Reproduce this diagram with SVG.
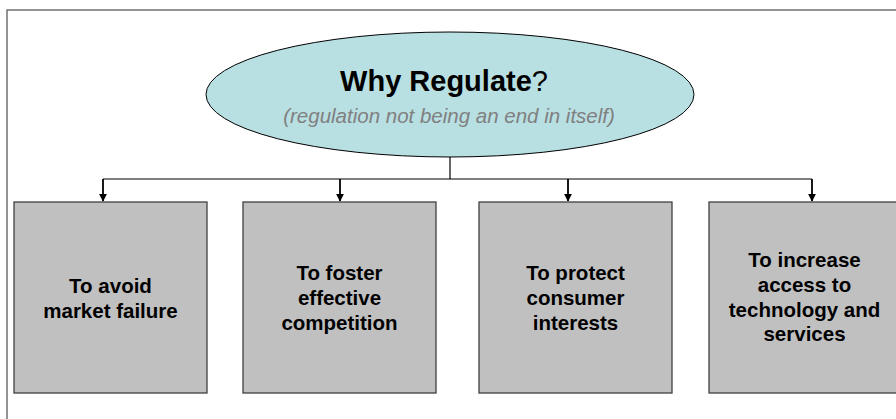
<svg xmlns="http://www.w3.org/2000/svg" width="896" height="419" viewBox="0 0 896 419">
<defs>
<style>
.box{fill:#c0c0c0;stroke:#404040;stroke-width:1.3}
.bt{font-family:"Liberation Sans",Arial,sans-serif;font-weight:bold;font-size:20.5px;fill:#000;text-anchor:middle}
.conn{fill:none;stroke:#000;stroke-width:1.2}
.arr{fill:none;stroke:#000;stroke-width:1.8}
</style>
<marker id="ah" viewBox="0 0 10 10" refX="9" refY="5" markerWidth="8" markerHeight="8" markerUnits="userSpaceOnUse" orient="auto">
<path d="M0,0 L10,5 L0,10 z" fill="#000"/>
</marker>
</defs>
<rect x="0" y="0" width="896" height="419" fill="#fff"/>
<path d="M7,419 V10 H896" fill="none" stroke="#707070" stroke-width="1.5"/>
<g id="root">
<ellipse cx="450" cy="94.5" rx="244" ry="62.5" fill="#b8dfe2" stroke="#000" stroke-width="1"/>
<text x="444" y="91" font-family="'Liberation Sans',Arial,sans-serif" font-size="29" text-anchor="middle" fill="#000"><tspan font-weight="bold">Why Regulate</tspan>?</text>
<text x="449" y="123" font-family="'Liberation Sans',Arial,sans-serif" font-size="20.5" font-style="italic" text-anchor="middle" fill="#808080">(regulation not being an end in itself)</text>
</g>
<g id="connectors">
<path class="conn" d="M450,157 V179"/>
<path class="conn" d="M103,179 H812"/>
<path class="arr" d="M103,179 V201" marker-end="url(#ah)"/>
<path class="arr" d="M340,179 V201" marker-end="url(#ah)"/>
<path class="arr" d="M568,179 V201" marker-end="url(#ah)"/>
<path class="arr" d="M812,179 V201" marker-end="url(#ah)"/>
</g>
<g id="n1">
<rect class="box" x="14" y="202" width="193" height="191"/>
<text class="bt" x="110.5" y="293">To avoid</text>
<text class="bt" x="110.5" y="317.5">market failure</text>
</g>
<g id="n2">
<rect class="box" x="243" y="202" width="193" height="191"/>
<text class="bt" x="339.5" y="280">To foster</text>
<text class="bt" x="339.5" y="305">effective</text>
<text class="bt" x="339.5" y="330">competition</text>
</g>
<g id="n3">
<rect class="box" x="479" y="202" width="193" height="191"/>
<text class="bt" x="575.5" y="280">To protect</text>
<text class="bt" x="575.5" y="305">consumer</text>
<text class="bt" x="575.5" y="330">interests</text>
</g>
<g id="n4">
<rect class="box" x="709" y="202" width="193" height="191"/>
<text class="bt" x="804.5" y="267">To increase</text>
<text class="bt" x="804.5" y="292">access to</text>
<text class="bt" x="804.5" y="317">technology and</text>
<text class="bt" x="804.5" y="341">services</text>
</g>
</svg>
